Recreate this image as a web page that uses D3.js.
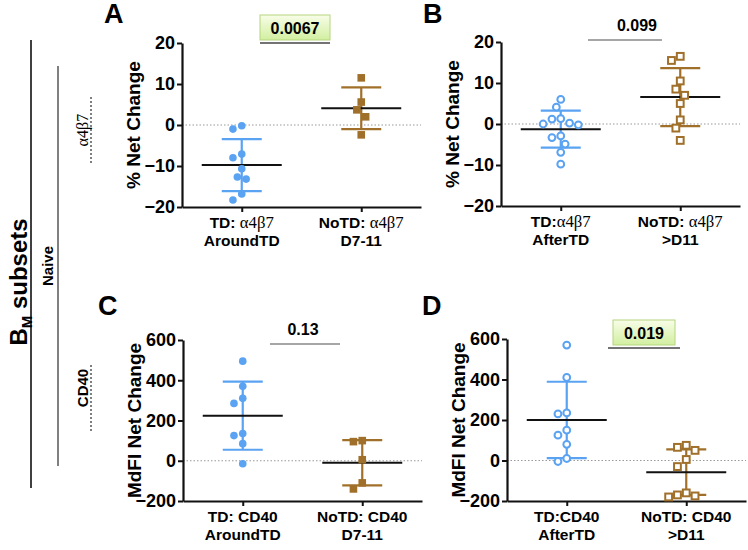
<!DOCTYPE html>
<html><head><meta charset="utf-8">
<script src="https://cdn.jsdelivr.net/npm/d3@7/dist/d3.min.js"></script>
<style>
body{margin:0;background:#fff}
text{font-family:"Liberation Sans",Arial,sans-serif;font-weight:bold;fill:#000}
</style>
</head><body>
<svg id="c" width="748" height="550"></svg>
<script>
// ---------- data ----------
const catsA = [["TD: α4β7","AroundTD"],["NoTD: α4β7","D7-11"]];
const catsB = [["TD:α4β7","AfterTD"],["NoTD: α4β7",">D11"]];
const catsC = [["TD: CD40","AroundTD"],["NoTD: CD40","D7-11"]];
const catsD = [["TD:CD40","AfterTD"],["NoTD: CD40",">D11"]];

const a_TD   = [-0.2,-1.0,-7.1,-8.0,-10.7,-12.7,-13.2,-16.8,-18.3];
const a_NoTD = [11.5,5.6,3.7,2.0,-2.4];
const b_TD   = [6.0,4.1,1.2,1.3,0.0,-0.2,0.2,-3.3,-2.9,-4.9,-6.9,-9.8];
const b_NoTD = [16.5,15.5,10.5,8.5,7.0,5.0,1.0,-1.0,-4.0];
const c_TD   = [495,370,310,285,135,125,85,-15];
const c_NoTD = [95,100,5,-110,-140];
const d_TD   = [570,410,235,230,150,125,80,10,-5];
const d_NoTD = [75,65,50,5,-30,-160,-170,-175,-180];

const pctTicks  = [-20,-10,0,10,20];
const mdfiTicks = [-200,0,200,400,600];
const pctTitle  = "% Net Change";
const mdfiTitle = "MdFI Net Change";
const pValues   = ["0.0067","0.099","0.13","0.019"];
const panelLetters = ["A","B","C","D"];

// ---------- style ----------
const BLUE = "#5aa2f2", BROWN = "#a0702a";
const svg = d3.select("#c");
const defs = svg.append("defs");
const gr = defs.append("linearGradient").attr("id","gbox").attr("x1",0).attr("y1",0).attr("x2",0).attr("y2",1);
gr.append("stop").attr("offset","0%").attr("stop-color","#f8fde8");
gr.append("stop").attr("offset","100%").attr("stop-color","#d2efa0");

// text with the Greek part in a light serif face
function rich(sel, str){
  str.split(/(α4β7)/).filter(s=>s.length).forEach(part=>{
    const t = sel.append("tspan").text(part);
    if(part==="α4β7") t.attr("font-family","'Liberation Serif','DejaVu Serif',serif").attr("font-weight","normal").attr("font-size","1.08em");
  });
}

// ---------- left annotations ----------
svg.append("line").attr("x1",31).attr("x2",31).attr("y1",40).attr("y2",488).attr("stroke","#000").attr("stroke-width",1.5);
const bm = svg.append("text").attr("transform","translate(27,282) rotate(-90)").attr("text-anchor","middle").attr("font-size",24);
bm.append("tspan").text("B");
bm.append("tspan").text("M").attr("font-size",15).attr("dy",5);
bm.append("tspan").text(" subsets").attr("dy",-5);
svg.append("line").attr("x1",58).attr("x2",58).attr("y1",66).attr("y2",466).attr("stroke","#000").attr("stroke-width",1);
svg.append("text").attr("transform","translate(53,266) rotate(-90)").attr("text-anchor","middle").attr("font-size",15).text("Naive");
rich(svg.append("text").attr("transform","translate(88,130) rotate(-90)").attr("text-anchor","middle").attr("font-size",15), "α4β7");
svg.append("line").attr("x1",91).attr("x2",91).attr("y1",97).attr("y2",163).attr("stroke","#000").attr("stroke-width",1).attr("stroke-dasharray","2,2");
svg.append("text").attr("transform","translate(88,388) rotate(-90)").attr("text-anchor","middle").attr("font-size",15).text("CD40");
svg.append("line").attr("x1",91).attr("x2",91).attr("y1",365).attr("y2",432).attr("stroke","#000").attr("stroke-width",1).attr("stroke-dasharray","2,2");

// ---------- panel drawer ----------
function dodge(vals, y, r){
  const placed = [];
  const order = vals.map((v,i)=>i).sort((a,b)=>vals[b]-vals[a]);
  const off = new Array(vals.length).fill(0);
  order.forEach(i=>{
    const py = y(vals[i]);
    const cands=[0];
    for(let k=1;k<10;k++){cands.push(-k*r*1.1,k*r*1.1);}
    for(const c of cands){
      if(placed.every(p=>Math.hypot(p[0]-c,p[1]-py) >= 2*r+0.8)){off[i]=c;placed.push([c,py]);break;}
    }
  });
  return off;
}

function panel(cfg){
  const g = svg.append("g");
  const y = d3.scaleLinear().domain(cfg.domain).range([cfg.yb,cfg.yt]);
  const x = d3.scalePoint().domain(cfg.cats.map(c=>c.join(" "))).range([cfg.x0,cfg.x1]).padding(0.5);

  g.append("line").attr("x1",cfg.x0).attr("x2",cfg.x1).attr("y1",y(0)).attr("y2",y(0))
    .attr("stroke","#999").attr("stroke-width",1).attr("stroke-dasharray","1.5,2");

  const ya = g.append("g").attr("transform",`translate(${cfg.x0},0)`)
    .call(d3.axisLeft(y).tickValues(cfg.ticks).tickSize(5).tickSizeOuter(0).tickPadding(2).tickFormat(d3.format("d")));
  ya.select(".domain").attr("stroke-width",2.2).attr("stroke","#111");
  ya.selectAll(".tick line").attr("stroke-width",2).attr("stroke","#111");
  ya.selectAll(".tick text").attr("font-size",18).attr("font-family","'Liberation Sans',Arial,sans-serif").attr("font-weight","bold").attr("fill","#111");
  const xa = g.append("g").attr("transform",`translate(0,${cfg.yb})`)
    .call(d3.axisBottom(x).tickSize(5).tickSizeOuter(0).tickFormat(""));
  xa.select(".domain").attr("stroke-width",2.2).attr("stroke","#111");
  xa.selectAll(".tick line").attr("stroke-width",2).attr("stroke","#111");
  cfg.cats.forEach(c=>{
    const cx = x(c.join(" "));
    rich(g.append("text").attr("text-anchor","middle").attr("font-size",15.5).attr("x",cx).attr("y",cfg.yb+21), c[0]);
    g.append("text").attr("text-anchor","middle").attr("font-size",15.5).attr("x",cx).attr("y",cfg.yb+38.5).text(c[1]);
  });

  g.append("text").attr("transform",`translate(${cfg.x0-42},${(cfg.yt+cfg.yb)/2}) rotate(-90)`)
    .attr("text-anchor","middle").attr("font-size",19).text(cfg.title);
  g.append("text").attr("x",cfg.lx).attr("y",cfg.ly).attr("font-size",27).text(cfg.letter);

  cfg.groups.forEach((grp,gi)=>{
    const cx = x(cfg.cats[gi].join(" "));
    const m = d3.mean(grp.vals), sd = d3.deviation(grp.vals);
    const col = grp.color;
    g.append("line").attr("x1",cx).attr("x2",cx).attr("y1",y(m+sd)).attr("y2",y(m-sd)).attr("stroke",col).attr("stroke-width",2.2);
    [m+sd,m-sd].forEach(v=>g.append("line").attr("x1",cx-20).attr("x2",cx+20).attr("y1",y(v)).attr("y2",y(v)).attr("stroke",col).attr("stroke-width",2.2));
    g.append("line").attr("x1",cx-40).attr("x2",cx+40).attr("y1",y(m)).attr("y2",y(m)).attr("stroke","#111").attr("stroke-width",2);
    const r = 4;
    const off = dodge(grp.vals,y,r);
    grp.vals.forEach((v,i)=>{
      const px = cx+off[i], py = y(v);
      if(grp.shape==="circle"){
        g.append("circle").attr("cx",px).attr("cy",py).attr("r",grp.open?3.4:3.8)
          .attr("fill",grp.open?"#fff":col).attr("stroke",col).attr("stroke-width",grp.open?2:0);
      } else {
        const s = grp.open?6.8:7.6;
        g.append("rect").attr("x",px-s/2).attr("y",py-s/2).attr("width",s).attr("height",s)
          .attr("fill",grp.open?"#fff":col).attr("stroke",col).attr("stroke-width",grp.open?2:0);
      }
    });
  });

  const s = cfg.sig;
  if(s.box){
    g.append("rect").attr("x",s.bx).attr("y",s.y-28).attr("width",s.bw).attr("height",25)
      .attr("fill","url(#gbox)").attr("stroke","#b5d67f").attr("stroke-width",1);
  }
  g.append("line").attr("x1",s.x1).attr("x2",s.x2).attr("y1",s.y).attr("y2",s.y).attr("stroke",s.box?"#444":"#888").attr("stroke-width",1.6);
  g.append("text").attr("x",s.tx).attr("y",s.y-9).attr("text-anchor","middle").attr("font-size",16).text(s.text);
}

panel({letter:panelLetters[0],lx:104,ly:23,title:pctTitle,domain:[-20,20],ticks:pctTicks,cats:catsA,
  x0:182,x1:421,yt:43,yb:207,
  groups:[{vals:a_TD,color:BLUE,shape:"circle",open:false},{vals:a_NoTD,color:BROWN,shape:"square",open:false}],
  sig:{x1:260,x2:330,y:43,tx:295,text:pValues[0],box:true,bx:260,bw:70}});
panel({letter:panelLetters[1],lx:423,ly:23,title:pctTitle,domain:[-20,20],ticks:pctTicks,cats:catsB,
  x0:501,x1:740,yt:42,yb:206,
  groups:[{vals:b_TD,color:BLUE,shape:"circle",open:true},{vals:b_NoTD,color:BROWN,shape:"square",open:true}],
  sig:{x1:588,x2:662,y:40,tx:637,text:pValues[1],box:false}});
panel({letter:panelLetters[2],lx:98,ly:315,title:mdfiTitle,domain:[-200,600],ticks:mdfiTicks,cats:catsC,
  x0:183,x1:422,yt:340,yb:501,
  groups:[{vals:c_TD,color:BLUE,shape:"circle",open:false},{vals:c_NoTD,color:BROWN,shape:"square",open:false}],
  sig:{x1:270,x2:340,y:344,tx:303,text:pValues[2],box:false}});
panel({letter:panelLetters[3],lx:422,ly:315,title:mdfiTitle,domain:[-200,600],ticks:mdfiTicks,cats:catsD,
  x0:507,x1:746,yt:339,yb:501,
  groups:[{vals:d_TD,color:BLUE,shape:"circle",open:true},{vals:d_NoTD,color:BROWN,shape:"square",open:true}],
  sig:{x1:608,x2:680,y:348,tx:644,text:pValues[3],box:true,bx:613,bw:62}});
</script>
</body></html>
